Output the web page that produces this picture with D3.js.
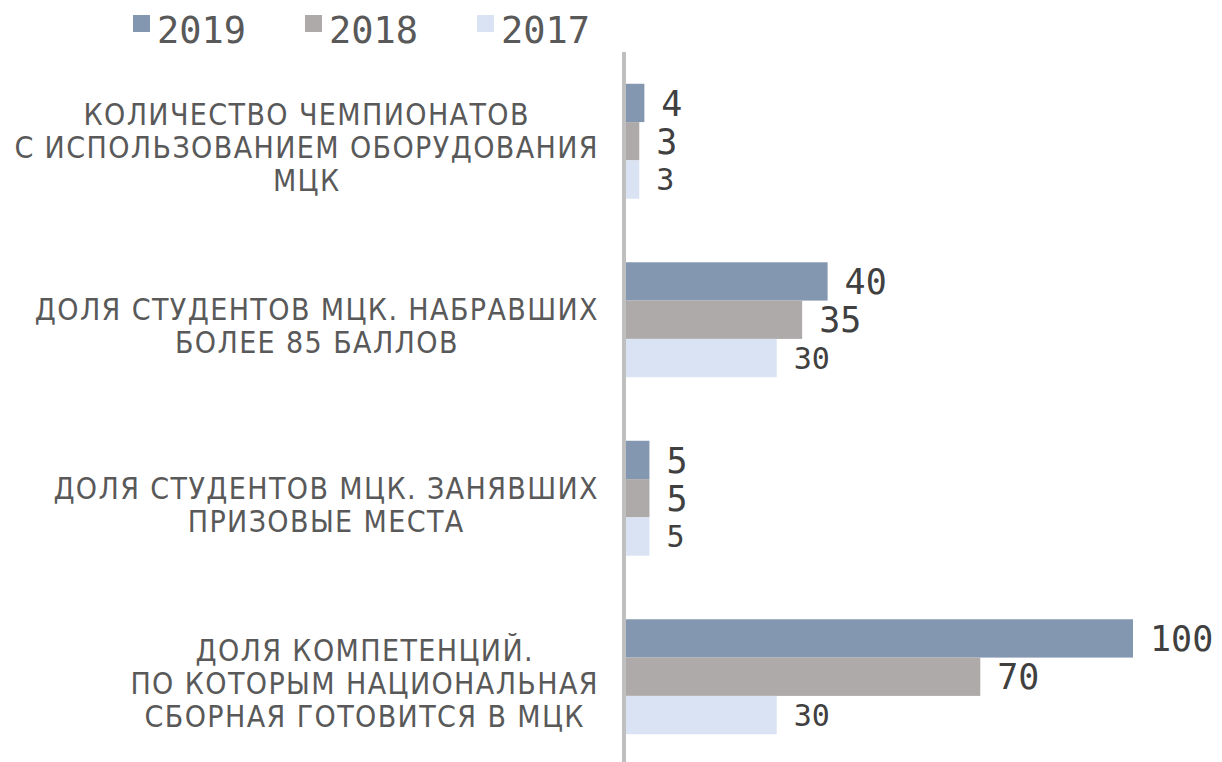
<!DOCTYPE html>
<meta charset="utf-8">
<style>
body { margin: 0; background: #fff; }
.cat { font-family: "Liberation Sans Narrow", "DejaVu Sans Condensed", "DejaVu Sans", sans-serif; fill: #595959; }
.val, .leg { font-family: "DejaVu Sans Mono", monospace; }
</style>
<body>
<script src="https://d3js.org/d3.v7.min.js"></script>
<script>

// data
var categories = [
  ["КОЛИЧЕСТВО ЧЕМПИОНАТОВ", "С ИСПОЛЬЗОВАНИЕМ ОБОРУДОВАНИЯ", "МЦК"],
  ["ДОЛЯ СТУДЕНТОВ МЦК. НАБРАВШИХ", "БОЛЕЕ 85 БАЛЛОВ"],
  ["ДОЛЯ СТУДЕНТОВ МЦК. ЗАНЯВШИХ", "ПРИЗОВЫЕ МЕСТА"],
  ["ДОЛЯ КОМПЕТЕНЦИЙ.", "ПО КОТОРЫМ НАЦИОНАЛЬНАЯ", "СБОРНАЯ ГОТОВИТСЯ В МЦК"]
];
var years = ["2019", "2018", "2017"];
var values2019 = [4, 40, 5, 100];
var values2018 = [3, 35, 5, 70];
var values2017 = [3, 30, 5, 30];
var colors = ["#8497b0", "#aeaaaa", "#dae3f3"];

var series = [values2019, values2018, values2017];

var width = 1222, height = 762;

var svg = d3.select("body").append("svg")
    .attr("width", width)
    .attr("height", height);

var y0 = d3.scaleBand()
    .domain(d3.range(categories.length))
    .range([52, 766])
    .paddingInner(0.356)
    .paddingOuter(0.178);

var y1 = d3.scaleBand()
    .domain(years)
    .range([0, y0.bandwidth()]);

var x = d3.scaleLinear().domain([0, 100]).range([624, 1133]);

var color = d3.scaleOrdinal().domain(years).range(colors);

// bars
var groups = svg.selectAll(".grp")
    .data(categories)
  .enter().append("g")
    .attr("class", "grp")
    .attr("transform", function(d, i) { return "translate(0," + y0(i) + ")"; });

groups.each(function(cat, i) {
  var g = d3.select(this);
  var rows = years.map(function(yr, k) { return {year: yr, value: series[k][i]}; });

  g.selectAll("rect")
      .data(rows)
    .enter().append("rect")
      .attr("x", x(0))
      .attr("y", function(d) { return y1(d.year); })
      .attr("width", function(d) { return x(d.value) - x(0); })
      .attr("height", y1.bandwidth())
      .attr("fill", function(d) { return color(d.year); });

  g.selectAll("text.val")
      .data(rows)
    .enter().append("text")
      .attr("class", "val")
      .attr("x", function(d) { return x(d.value) + 17; })
      .attr("y", function(d) { return y1(d.year) + y1.bandwidth() / 2; })
      .attr("dy", "0.36em")
      .style("font-size", function(d) { return d.year == "2017" ? "30px" : "35px"; })
      .style("fill", "#404040")
      .text(function(d) { return d.value; });
});

// category labels, block centred, widest line ends at the axis gap
groups.each(function(cat, i) {
  var g = d3.select(this);
  var lh = 33;
  var t = g.append("text")
      .attr("class", "cat")
      .style("font-size", "30px")
      .style("letter-spacing", "1.4px");
  var mid = y0.bandwidth() / 2 + 6;
  cat.forEach(function(line, j) {
    t.append("tspan")
      .attr("y", mid + (j - (cat.length - 1) / 2) * lh)
      .attr("dy", "0.36em")
      .text(line);
  });
  var maxW = 0;
  t.selectAll("tspan").each(function() {
    maxW = Math.max(maxW, this.getComputedTextLength());
  });
  t.attr("text-anchor", "middle")
    .selectAll("tspan").attr("x", 599 - maxW / 2);
});

// axis line
svg.append("line")
    .attr("x1", x(0)).attr("x2", x(0))
    .attr("y1", 52).attr("y2", height)
    .attr("stroke", "#bfbfbf")
    .attr("stroke-width", 4);

// legend
var leg = svg.selectAll(".leg")
    .data(years)
  .enter().append("g")
    .attr("transform", function(d, i) { return "translate(" + (133 + i * 172) + ",15)"; });

leg.append("rect")
    .attr("width", 17).attr("height", 17)
    .attr("fill", function(d) { return color(d); });

leg.append("text")
    .attr("class", "leg")
    .attr("x", 24)
    .attr("y", 28)
    .style("font-size", "37px")
    .style("fill", "#595959")
    .text(function(d) { return d; });

</script>
</body>
